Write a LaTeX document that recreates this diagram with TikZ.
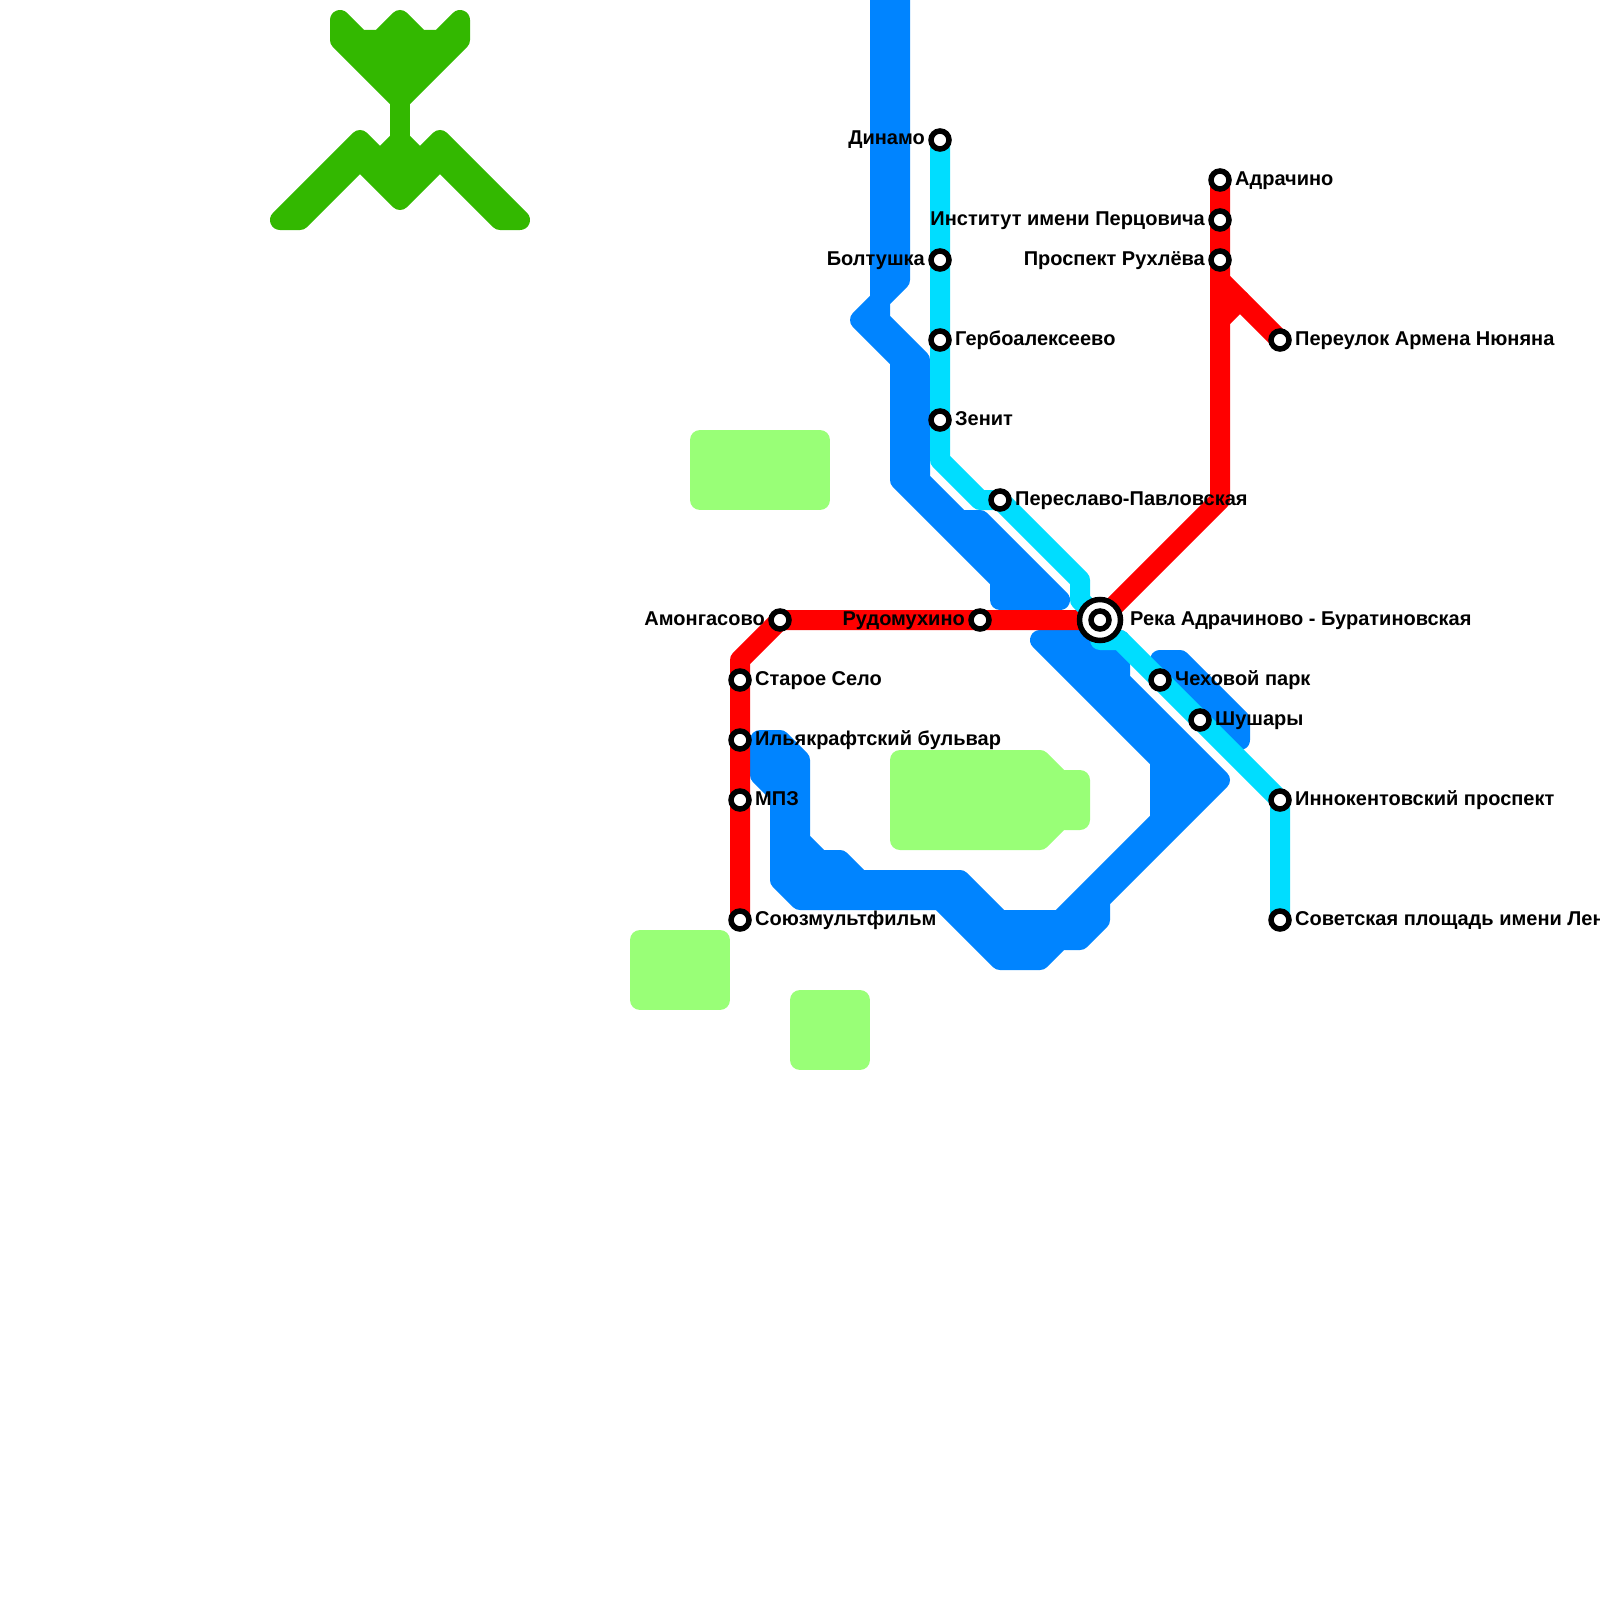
\documentclass[tikz,border=0pt]{standalone}
\usepackage{fontspec}
\setmainfont{Liberation Sans}
\definecolor{mblue}{HTML}{0084FF}
\definecolor{mcyan}{HTML}{00DDFF}
\definecolor{mgreen}{HTML}{33B800}
\definecolor{mlight}{HTML}{99FF77}
\tikzset{
  shapeline/.style={line width=20pt,line join=round,line cap=round},
  blueblock/.style={shapeline,draw=mblue,fill=mblue},
  greenblock/.style={shapeline,draw=mgreen,fill=mgreen},
  lightblock/.style={shapeline,draw=mlight,fill=mlight},
  redline/.style={shapeline,draw=red},
  cyanline/.style={shapeline,draw=mcyan},
  greenline/.style={shapeline,draw=mgreen},
  stationdot/.style={circle,draw=black,fill=white,line width=5.5pt,minimum size=18pt,inner sep=0pt,outer sep=0pt},
  hubring/.style={circle,draw=black,fill=white,line width=5.5pt,minimum size=41pt,inner sep=0pt,outer sep=0pt},
  lblr/.style={font=\bfseries\fontsize{20}{20}\selectfont,text=black,anchor=base west,inner sep=0pt},
  lbll/.style={font=\bfseries\fontsize{20}{20}\selectfont,text=black,anchor=base east,inner sep=0pt},
}
\begin{document}
\begin{tikzpicture}[x=1pt,y=-1pt]
\useasboundingbox (0,0) rectangle (1600,1600);
\clip (0,0) rectangle (1600,1600);
% station positions
\coordinate (dinamo) at (940,140);
\coordinate (boltushka) at (940,260);
\coordinate (gerbo) at (940,340);
\coordinate (zenit) at (940,420);
\coordinate (peres) at (1000,500);
\coordinate (rudo) at (980,620);
\coordinate (reka) at (1100,620);
\coordinate (adra) at (1220,180);
\coordinate (inst) at (1220,220);
\coordinate (rukh) at (1220,260);
\coordinate (arm) at (1280,340);
\coordinate (chekh) at (1160,680);
\coordinate (shush) at (1200,720);
\coordinate (inno) at (1280,800);
\coordinate (sov) at (1280,920);
\coordinate (among) at (780,620);
\coordinate (staroe) at (740,680);
\coordinate (ilya) at (740,740);
\coordinate (mpz) at (740,800);
\coordinate (soyuz) at (740,920);
% dark green emblem
\path[greenblock] (340,20)--(360,40)--(380,40)--(400,20)--(420,40)--(440,40)--(460,20)--(460,40)--(400,100)--(340,40)--cycle;
\path[greenblock] (360,140)--(380,160)--(400,140)--(420,160)--(440,140)--(520,220)--(500,220)--(440,160)--(400,200)--(360,160)--(300,220)--(280,220)--cycle;
\draw[greenline] (400,100)--(400,180);
% light green areas
\path[lightblock] (700,440) rectangle (820,500);
\path[lightblock] (640,940) rectangle (720,1000);
\path[lightblock] (800,1000) rectangle (860,1060);
\path[lightblock] (900,760)--(1040,760)--(1060,780)--(1080,780)--(1080,820)--(1060,820)--(1040,840)--(900,840)--cycle;
% blue bundles
\path[blueblock] (880,-30)--(900,-30)--(900,280)--(880,300)--(880,320)--(920,360)--(920,480)--(960,520)--(980,520)--(1060,600)--(1000,600)--(1000,580)--(900,480)--(900,360)--(860,320)--(880,300)--cycle;
\path[blueblock] (1040,640)--(1120,640)--(1120,680)--(1220,780)--(1100,900)--(1100,920)--(1080,940)--(1060,940)--(1040,960)--(1000,960)--(940,900)--(800,900)--(780,880)--(780,795)--(760,775)--(760,740)--(780,740)--(800,760)--(800,840)--(820,860)--(840,860)--(860,880)--(960,880)--(1000,920)--(1060,920)--(1160,820)--(1160,760)--cycle;
\path[blueblock] (1160,660)--(1180,660)--(1240,720)--(1240,740)--cycle;
% red line
\draw[redline] (soyuz)--(staroe)--(740,660)--(among)--(reka)--(1220,500)--(rukh)--(adra);
\draw[redline] (1220,280)--(arm);
\draw[redline] (1220,320)--(1240,300);
% cyan line
\draw[cyanline] (dinamo)--(940,460)--(980,500)--(peres)--(1080,580)--(1080,600)--(reka)--(1100,640)--(1120,640)--(inno)--(sov);
% stations
\node[stationdot] (s1) at (dinamo) {};
\node[stationdot] (s2) at (boltushka) {};
\node[stationdot] (s3) at (gerbo) {};
\node[stationdot] (s4) at (zenit) {};
\node[stationdot] (s5) at (peres) {};
\node[stationdot] (s6) at (rudo) {};
\node[hubring] (s7o) at (reka) {};
\node[stationdot] (s7) at (reka) {};
\node[stationdot] (s8) at (adra) {};
\node[stationdot] (s9) at (inst) {};
\node[stationdot] (s10) at (rukh) {};
\node[stationdot] (s11) at (arm) {};
\node[stationdot] (s12) at (chekh) {};
\node[stationdot] (s13) at (shush) {};
\node[stationdot] (s14) at (inno) {};
\node[stationdot] (s15) at (sov) {};
\node[stationdot] (s16) at (among) {};
\node[stationdot] (s17) at (staroe) {};
\node[stationdot] (s18) at (ilya) {};
\node[stationdot] (s19) at (mpz) {};
\node[stationdot] (s20) at (soyuz) {};
% labels
\node[lbll] (l1) at (925,145) {Динамо};
\node[lbll] (l2) at (925,265) {Болтушка};
\node[lblr] (l3) at (955,345) {Гербоалексеево};
\node[lblr] (l4) at (955,425) {Зенит};
\node[lblr] (l5) at (1015,505) {Переславо-Павловская};
\node[lbll] (l6) at (965,625) {Рудомухино};
\node[lblr] (l7) at (1130,625) {Река Адрачиново - Буратиновская};
\node[lblr] (l8) at (1235,185) {Адрачино};
\node[lbll] (l9) at (1205,225) {Институт имени Перцовича};
\node[lbll] (l10) at (1205,265) {Проспект Рухлёва};
\node[lblr] (l11) at (1295,345) {Переулок Армена Нюняна};
\node[lblr] (l12) at (1175,685) {Чеховой парк};
\node[lblr] (l13) at (1215,725) {Шушары};
\node[lblr] (l14) at (1295,805) {Иннокентовский проспект};
\node[lblr] (l15) at (1295,925) {Советская площадь имени Лен};
\node[lbll] (l16) at (765,625) {Амонгасово};
\node[lblr] (l17) at (755,685) {Старое Село};
\node[lblr] (l18) at (755,745) {Ильякрафтский бульвар};
\node[lblr] (l19) at (755,805) {МПЗ};
\node[lblr] (l20) at (755,925) {Союзмультфильм};
\end{tikzpicture}
\end{document}
